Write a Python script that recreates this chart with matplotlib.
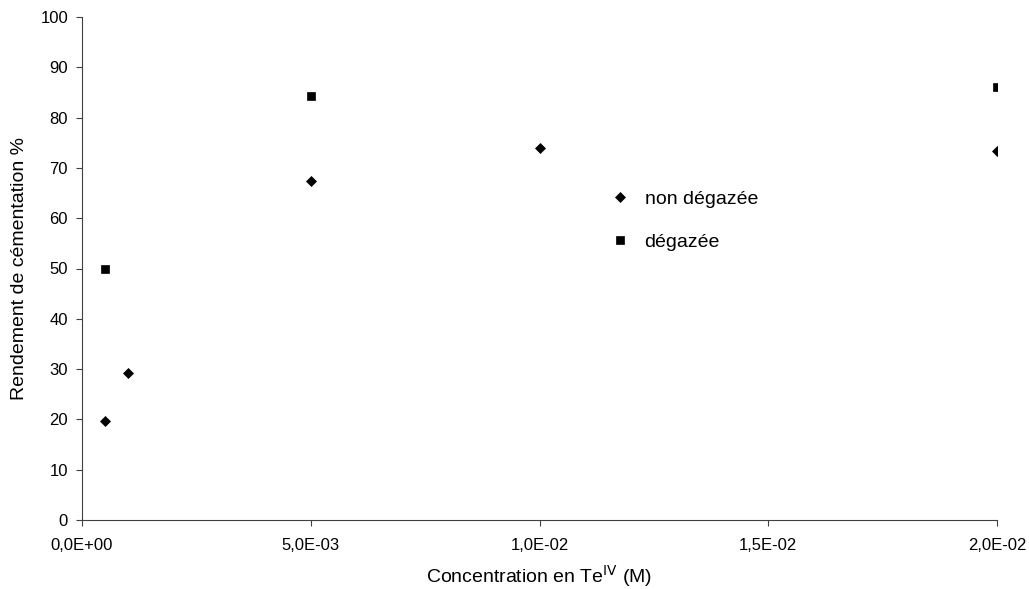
import matplotlib
matplotlib.use('Agg')
import matplotlib.pyplot as plt

# données
conc_non = [0.0005, 0.001, 0.005, 0.01, 0.02]
rend_non = [19.7, 29.2, 67.3, 74.0, 73.3]
conc_deg = [0.0005, 0.005, 0.02]
rend_deg = [50.0, 84.3, 86.0]

xticks = [0, 0.005, 0.01, 0.015, 0.02]
xlabels = ['0,0E+00', '5,0E-03', '1,0E-02', '1,5E-02', '2,0E-02']

plt.rcParams['font.family'] = ['Liberation Sans', 'DejaVu Sans']

fig = plt.figure(figsize=(10.29, 5.89), dpi=100)
ax = fig.add_axes([82 / 1029, 69 / 589, 915 / 1029, 503 / 589])

ax.plot(conc_non, rend_non, 'D', color='black', markersize=4.6, mew=0.5, ls='none', label='non dégazée')
ax.plot(conc_deg, rend_deg, 's', color='black', markersize=5.8, mew=0.5, ls='none', label='dégazée')

ax.set_xlim(0, 0.02)
ax.set_ylim(0, 100)
ax.set_xticks(xticks)
ax.set_xticklabels(xlabels)
ax.set_yticks(range(0, 101, 10))
for s in ('top', 'right'):
    ax.spines[s].set_visible(False)
for s in ('left', 'bottom'):
    ax.spines[s].set_color('#404040')
ax.tick_params(axis='both', direction='out', length=4, color='#404040', labelsize=12)
ax.tick_params(axis='x', pad=9)
ax.tick_params(axis='y', pad=6)

ax.set_xlabel('Concentration en Te$^{\\mathrm{IV}}$ (M)', fontsize=14, labelpad=7)
ax.set_ylabel('Rendement de cémentation %', fontsize=14, labelpad=9)

ax.legend(loc='upper left', bbox_to_anchor=(593 / 1029, 1 - 173 / 589), bbox_transform=fig.transFigure,
          frameon=False, fontsize=14, labelspacing=1.3, handletextpad=0.75, handlelength=1.0)

fig.savefig('out.png', dpi=100)
